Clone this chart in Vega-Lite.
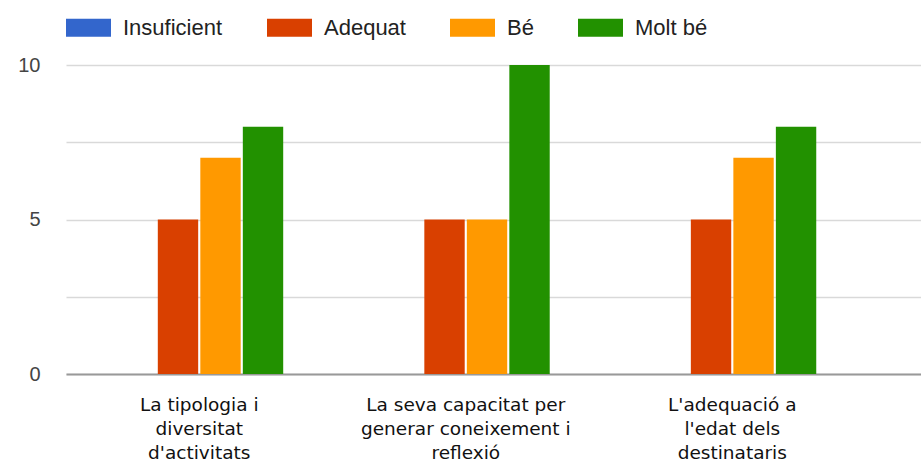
{
  "$schema": "https://vega.github.io/schema/vega-lite/v6.json",
  "width": 855,
  "height": 309,
  "autosize": {"type": "none"},
  "padding": {"left": 66, "top": 65, "right": 0, "bottom": 90},
  "background": "white",
  "data": {
    "values": [
      {"aspecte": "La tipologia i|diversitat|d'activitats", "valoracio": "Insuficient", "n": 0},
      {"aspecte": "La tipologia i|diversitat|d'activitats", "valoracio": "Adequat", "n": 5},
      {"aspecte": "La tipologia i|diversitat|d'activitats", "valoracio": "Bé", "n": 7},
      {"aspecte": "La tipologia i|diversitat|d'activitats", "valoracio": "Molt bé", "n": 8},
      {"aspecte": "La seva capacitat per|generar coneixement i|reflexió", "valoracio": "Insuficient", "n": 0},
      {"aspecte": "La seva capacitat per|generar coneixement i|reflexió", "valoracio": "Adequat", "n": 5},
      {"aspecte": "La seva capacitat per|generar coneixement i|reflexió", "valoracio": "Bé", "n": 5},
      {"aspecte": "La seva capacitat per|generar coneixement i|reflexió", "valoracio": "Molt bé", "n": 10},
      {"aspecte": "L'adequació a|l'edat dels|destinataris", "valoracio": "Insuficient", "n": 0},
      {"aspecte": "L'adequació a|l'edat dels|destinataris", "valoracio": "Adequat", "n": 5},
      {"aspecte": "L'adequació a|l'edat dels|destinataris", "valoracio": "Bé", "n": 7},
      {"aspecte": "L'adequació a|l'edat dels|destinataris", "valoracio": "Molt bé", "n": 8}
    ]
  },
  "mark": {"type": "bar"},
  "encoding": {
    "x": {
      "field": "aspecte",
      "type": "nominal",
      "sort": null,
      "title": null,
      "scale": {"paddingInner": 0.37, "paddingOuter": 0.289, "align": 0.32},
      "axis": {
        "labelAngle": 0,
        "labelExpr": "split(datum.label, '|')",
        "labelFont": "DejaVu Sans",
        "labelFontSize": 18.5,
        "labelLineHeight": 24,
        "labelColor": "#111",
        "labelPadding": 21,
        "labelLimit": 400,
        "ticks": false,
        "domainColor": "#999",
        "domainWidth": 2,
        "grid": false
      }
    },
    "xOffset": {
      "field": "valoracio",
      "sort": ["Insuficient", "Adequat", "Bé", "Molt bé"],
      "scale": {"paddingInner": 0.05}
    },
    "y": {
      "field": "n",
      "type": "quantitative",
      "title": null,
      "scale": {"domain": [0, 10], "nice": false},
      "axis": {
        "values": [0, 2.5, 5, 7.5, 10],
        "labelExpr": "datum.value % 5 == 0 ? datum.label : ''",
        "labelFont": "Liberation Sans",
        "labelFontSize": 20,
        "labelColor": "#444",
        "labelPadding": 26,
        "ticks": false,
        "domain": false,
        "gridColor": "#d9d9d9",
        "gridWidth": 1.5
      }
    },
    "color": {
      "field": "valoracio",
      "type": "nominal",
      "sort": ["Insuficient", "Adequat", "Bé", "Molt bé"],
      "scale": {
        "domain": ["Insuficient", "Adequat", "Bé", "Molt bé"],
        "range": ["#3366cc", "#d94000", "#ff9900", "#229100"]
      },
      "legend": {
        "title": null,
        "orient": "none",
        "legendX": 0,
        "legendY": -60,
        "direction": "horizontal",
        "symbolType": "M-1,-0.4H1V0.4H-1Z",
        "symbolSize": 2025,
        "symbolStrokeWidth": 0,
        "labelFont": "Liberation Sans",
        "labelFontSize": 22,
        "labelColor": "#222",
        "labelOffset": 12,
        "columnPadding": 44
      }
    }
  },
  "config": {"view": {"stroke": null}}
}
